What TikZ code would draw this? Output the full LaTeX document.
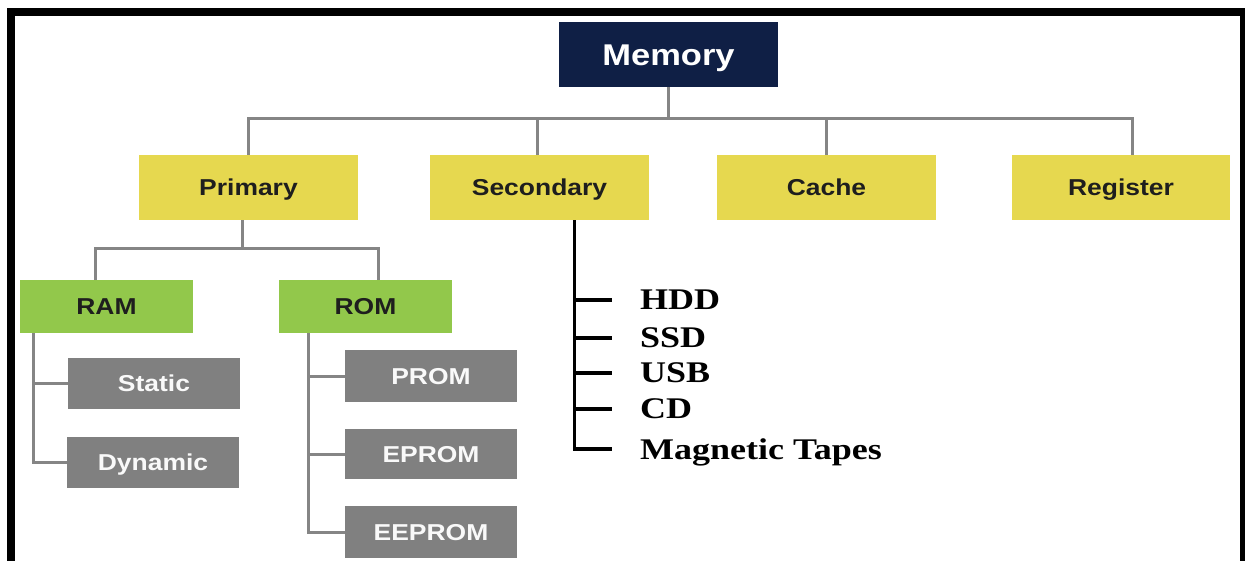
\documentclass[tikz,border=0pt]{standalone}
\usepackage{graphicx}
\usepackage{fontspec}
\setmainfont{Liberation Serif}
\newfontfamily\arialfont{Liberation Sans}
\definecolor{navy}{HTML}{0F1F45}
\definecolor{ylw}{HTML}{E6D84F}
\definecolor{grn}{HTML}{92C84B}
\definecolor{gbox}{HTML}{808080}
\definecolor{conn}{HTML}{858585}
\definecolor{dtext}{HTML}{1E1E1E}
\newcommand\sxs[1]{\scalebox{1.15}[1]{#1}}
\newcommand\sxr[1]{\scalebox{1.2}[1]{#1}}
\tikzset{
  basebox/.style={rectangle, inner sep=0pt, text height=16.5pt, text depth=0pt, font=\arialfont\bfseries\fontsize{23}{27}\selectfont},
  rootbox/.style={basebox, fill=navy, text=white, minimum width=219pt, minimum height=65pt, text height=21.5pt, font=\arialfont\bfseries\fontsize{30}{36}\selectfont},
  lvlbox/.style={basebox, fill=ylw, text=dtext, minimum width=219pt, minimum height=65pt},
  memtype/.style={basebox, fill=grn, text=dtext, minimum width=173pt, minimum height=53pt},
  leafbox/.style={basebox, fill=gbox, text=white!95!gray, minimum width=172pt, minimum height=51pt},
  conline/.style={draw=conn, line width=3pt},
  listline/.style={draw=black, line width=3.2pt},
  listitem/.style={anchor=west, inner sep=0pt, text depth=0pt, font=\bfseries\fontsize{30}{36}\selectfont}
}
\begin{document}
\begin{tikzpicture}[x=1pt,y=-1pt]
\useasboundingbox (0,0) rectangle (1245,561);
% frame
\fill[black] (7,8) rectangle (1245,16);
\fill[black] (7,8) rectangle (15,561);
\fill[black] (1240,8) rectangle (1245,561);

% nodes
\node[rootbox] (mem) at (668.5,54.5) {\sxs{Memory}};
\node[lvlbox] (prim) at (248.5,187.5) {\sxs{Primary}};
\node[lvlbox] (sec) at (539.5,187.5) {\sxs{Secondary}};
\node[lvlbox] (cache) at (826.5,187.5) {\sxs{Cache}};
\node[lvlbox, minimum width=218pt] (reg) at (1121,187.5) {\sxs{Register}};

\node[memtype] (ram) at (106.5,306.5) {\sxs{RAM}};
\node[memtype] (rom) at (365.5,306.5) {\sxs{ROM}};

\node[leafbox] (stat) at (154,383.5) {\sxs{Static}};
\node[leafbox] (dyn) at (153,462.5) {\sxs{Dynamic}};
\node[leafbox, minimum height=52pt] (prom) at (431,376) {\sxs{PROM}};
\node[leafbox, minimum height=50pt] (eprom) at (431,454) {\sxs{EPROM}};
\node[leafbox, minimum height=52pt] (eeprom) at (431,532) {\sxs{EEPROM}};

\node[listitem] (hdd) at (640,300) {\sxr{HDD}};
\node[listitem] (ssd) at (640,338) {\sxr{SSD}};
\node[listitem] (usb) at (640,373) {\sxr{USB}};
\node[listitem] (cd) at (640,409) {\sxr{CD}};
\node[listitem] (mag) at (640,449) {\sxr{Magnetic Tapes}};

% memory to levels
\draw[conline] (mem.south) -- ++(0,31) -| (prim.north);
\draw[conline] (mem.south) -- ++(0,31) -| ([xshift=-2.5]sec.north);
\draw[conline] (mem.south) -- ++(0,31) -| (cache.north);
\draw[conline] (mem.south) -- ++(0,31) -| ([xshift=11]reg.north);

% primary to RAM/ROM
\draw[conline] ([xshift=-6]prim.south) -- ++(0,28) -| ([xshift=-11.5]ram.north);
\draw[conline] ([xshift=-6]prim.south) -- ++(0,28) -| ([xshift=12.5]rom.north);

% RAM children
\draw[conline] ([xshift=14]ram.south west) |- (stat.west);
\draw[conline] ([xshift=14]ram.south west) |- (dyn.west);

% ROM children
\draw[conline] ([xshift=30]rom.south west) |- (prom.west);
\draw[conline] ([xshift=30]rom.south west) |- (eprom.west);
\draw[conline] ([xshift=30]rom.south west) |- (eeprom.west);

% secondary list
\coordinate (lt) at ([xshift=145]sec.south west);
\draw[listline] (lt) |- ([xshift=-28]mag.west);
\draw[listline] (lt |- hdd.west) -- ([xshift=-28]hdd.west);
\draw[listline] (lt |- ssd.west) -- ([xshift=-28]ssd.west);
\draw[listline] (lt |- usb.west) -- ([xshift=-28]usb.west);
\draw[listline] (lt |- cd.west) -- ([xshift=-28]cd.west);
\end{tikzpicture}
\end{document}
